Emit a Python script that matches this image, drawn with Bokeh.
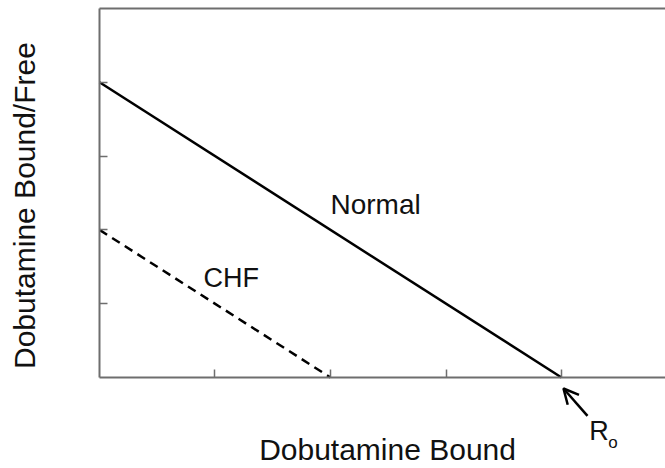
import math
from bokeh.plotting import figure
from bokeh.models import (Range1d, FixedTicker, Label, Arrow, OpenHead, LinearAxis)
from bokeh.embed import file_html
from bokeh.resources import INLINE

# ---- data ----
normal_x = [0, 4]
normal_y = [4, 0]
chf_x = [0, 2]
chf_y = [2, 0]
x_ticks = [1, 2, 3, 4]
y_ticks = [1, 2, 3, 4]
series_labels = ["Normal", "CHF"]
x_title = "Dobutamine Bound"
y_title = "Dobutamine Bound/Free"
x_max = 4.9004
y_max = 5

FONT = "Liberation Sans"
AXIS_COLOR = "#6e6e6e"
TEXT_COLOR = "#111111"

p = figure(width=665, height=468, output_backend="svg", toolbar_location=None,
           x_range=Range1d(-0.8571, x_max), y_range=Range1d(-1.2331, 5.0271),
           min_border_left=0, min_border_right=0, min_border_top=6,
           min_border_bottom=0)
p.outline_line_color = None
p.grid.visible = False
p.background_fill_color = "white"
p.border_fill_color = "white"


def style_axis(ax, ticks):
    ax.ticker = FixedTicker(ticks=ticks)
    ax.major_tick_in = 8
    ax.major_tick_out = 0
    ax.minor_tick_line_color = None
    ax.major_label_text_font_size = "0px"
    ax.major_label_text_color = None
    ax.major_label_standoff = 0
    ax.axis_line_color = AXIS_COLOR
    ax.axis_line_width = 2
    ax.major_tick_line_color = AXIS_COLOR
    ax.major_tick_line_width = 1.5


style_axis(p.xaxis[0], x_ticks)
style_axis(p.yaxis[0], y_ticks)
p.xaxis[0].fixed_location = 0
p.xaxis[0].bounds = (0, x_max)
p.yaxis[0].fixed_location = 0
p.yaxis[0].bounds = (0, y_max)

# top frame line
top = LinearAxis(fixed_location=y_max, bounds=(0, x_max))
style_axis(top, [])
p.add_layout(top, "above")

# axis titles
p.add_layout(Label(x=2.494, y=-0.975, text=x_title, text_font=FONT,
                   text_font_size="30px", text_color=TEXT_COLOR,
                   text_baseline="alphabetic", text_align="center"))
p.add_layout(Label(x=-0.649, y=2.33, text=y_title, text_font=FONT,
                   text_font_size="30px", text_color=TEXT_COLOR, angle=math.pi / 2,
                   text_baseline="alphabetic", text_align="center"))

# lines
p.line(normal_x, normal_y, line_color="black", line_width=2.5)
p.line(chf_x, chf_y, line_color="black", line_width=2.5, line_dash="9 6")

# text annotations
p.add_layout(Label(x=2.0, y=2.34, text=series_labels[0], text_font=FONT,
                   text_font_size="28px", text_color=TEXT_COLOR,
                   text_baseline="alphabetic", text_align="left"))
p.add_layout(Label(x=0.9, y=1.35, text=series_labels[1], text_font=FONT,
                   text_font_size="27px", text_color=TEXT_COLOR,
                   text_baseline="alphabetic", text_align="left"))

# R_o arrow + label
p.add_layout(Arrow(end=OpenHead(size=15, line_width=2.5, line_color="black"),
                   x_start=4.225, y_start=-0.52, x_end=4.017, y_end=-0.149,
                   line_color="black", line_width=2.5))
p.add_layout(Label(x=4.24, y=-0.73, text="R", text_font=FONT,
                   text_font_size="27px", text_color=TEXT_COLOR,
                   text_baseline="alphabetic", text_align="left"))
p.add_layout(Label(x=4.405, y=-0.88, text="o", text_font=FONT,
                   text_font_size="17px", text_color=TEXT_COLOR,
                   text_baseline="alphabetic", text_align="left"))

open("out.html", "w").write(file_html(p, INLINE))
